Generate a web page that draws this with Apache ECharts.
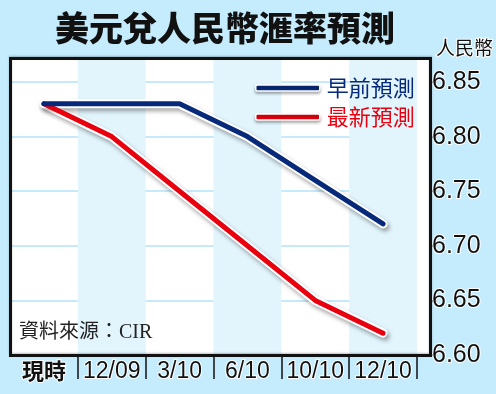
<!DOCTYPE html>
<html><head><meta charset="utf-8">
<script src="https://cdn.jsdelivr.net/npm/echarts@6/dist/echarts.min.js"></script>
<style>html,body{margin:0;padding:0;background:#c5ecfc;}#c{width:496px;height:394px;}</style>
</head><body><div id="c"></div>
<script>
var titleText = '美元兌人民幣滙率預測';
var unitText = '人民幣';
var sourceText = '資料來源：CIR';
var categories = ['現時', '12/09', '3/10', '6/10', '10/10', '12/10'];
var earlierName = '早前預測';
var latestName = '最新預測';
var earlier = [6.83, 6.83, 6.83, 6.80, 6.76, 6.72];
var latest = [6.83, 6.80, 6.75, 6.70, 6.65, 6.62];
var yMin = 6.60, yMax = 6.872, yStep = 0.05;

var NAVY = '#06297a', RED = '#e8000e';
var FONT = '"Noto Sans CJK TC", "Liberation Sans", sans-serif';
var chart = echarts.init(document.getElementById('c'));

function halo(name, data) {
  return {
    type: 'line', name: name, data: data, symbol: 'none', silent: true, z: 3,
    lineStyle: { width: 9, color: '#ffffff', cap: 'round', join: 'round',
      shadowColor: 'rgba(0,0,0,0.35)', shadowBlur: 4, shadowOffsetX: 2, shadowOffsetY: 3 }
  };
}
function main(name, data, color) {
  return {
    type: 'line', name: name, data: data, symbol: 'none', z: 4,
    lineStyle: { width: 5, color: color, cap: 'round', join: 'round' },
    itemStyle: { color: color }
  };
}

chart.setOption({
  backgroundColor: '#c5ecfc',
  animation: false,
  title: {
    text: titleText, left: 220, textAlign: 'center', top: 6,
    textStyle: { fontFamily: FONT, fontSize: 34, fontWeight: 900, color: '#111' }
  },
  grid: { left: 10, top: 58, width: 407, bottom: 39 },
  legend: {
    left: 250, top: 72, orient: 'vertical', itemWidth: 64, itemHeight: 6, itemGap: 7,
    icon: 'roundRect',
    data: [
      { name: earlierName, textStyle: { color: NAVY } },
      { name: latestName, textStyle: { color: RED } }
    ],
    itemStyle: { borderColor: '#fff', borderWidth: 1.5, shadowColor: 'rgba(0,0,0,0.3)', shadowBlur: 3, shadowOffsetY: 2 },
    textStyle: { fontFamily: FONT, fontSize: 22, padding: [0, 0, 0, 2] }
  },
  xAxis: {
    type: 'category', data: categories, boundaryGap: true,
    axisLine: { show: false },
    axisTick: { show: true, length: 24, lineStyle: { color: '#111', width: 1.5 },
      interval: function (i) { return i !== 0; } },
    splitArea: { show: true, interval: 0, areaStyle: { color: ['rgba(255,255,255,0)', '#e2f5fd'] } },
    splitLine: { show: false },
    axisLabel: {
      interval: 0, margin: 5, fontFamily: '"Liberation Sans", Arial, sans-serif', fontSize: 23, color: '#111',
      textBorderColor: '#fff', textBorderWidth: 2,
      formatter: function (v, i) { return i === 0 ? '{b|' + v + '}' : v; },
      rich: { b: { fontFamily: FONT, fontWeight: 'bold', fontSize: 22, color: '#111', textBorderColor: '#fff', textBorderWidth: 2 } }
    }
  },
  yAxis: {
    type: 'value', position: 'right', offset: 14, min: yMin, max: yMax, interval: yStep,
    axisLine: { show: false },
    axisTick: { show: true, length: 6, lineStyle: { color: '#111', width: 1.5 } },
    splitLine: { show: true, lineStyle: { color: '#c4eafb', width: 2 } },
    axisLabel: {
      margin: 1, fontFamily: '"Liberation Sans", Arial, sans-serif', fontSize: 25, color: '#111',
      textBorderColor: '#fff', textBorderWidth: 2, showMaxLabel: false,
      formatter: function (v) { return Math.abs(v - yMax) < 1e-6 ? '' : v.toFixed(2); }
    }
  },
  graphic: [
    { type: 'rect', z: -10, silent: true, shape: { x: 10, y: 58, width: 421, height: 298 }, style: { fill: '#ffffff' } },
    { type: 'rect', z: 100, silent: true, shape: { x: 10.5, y: 58.5, width: 420, height: 297 },
      style: { fill: null, stroke: '#111', lineWidth: 3, shadowColor: 'rgba(0,0,0,0.25)', shadowBlur: 2, shadowOffsetY: -1 } },
    { type: 'text', z: 100, left: 435, top: 37, style: { text: unitText, font: '19px ' + FONT, fill: '#111', stroke: '#fff', lineWidth: 2 } },
    { type: 'text', z: 100, left: 19, top: 323, style: { text: sourceText, font: '20px "Liberation Serif", "Noto Sans CJK TC", serif', fill: '#222' } }
  ],
  series: [
    halo(latestName + ' ', latest),
    main(latestName, latest, RED),
    halo(earlierName + ' ', earlier),
    main(earlierName, earlier, NAVY)
  ]
});
</script></body></html>
